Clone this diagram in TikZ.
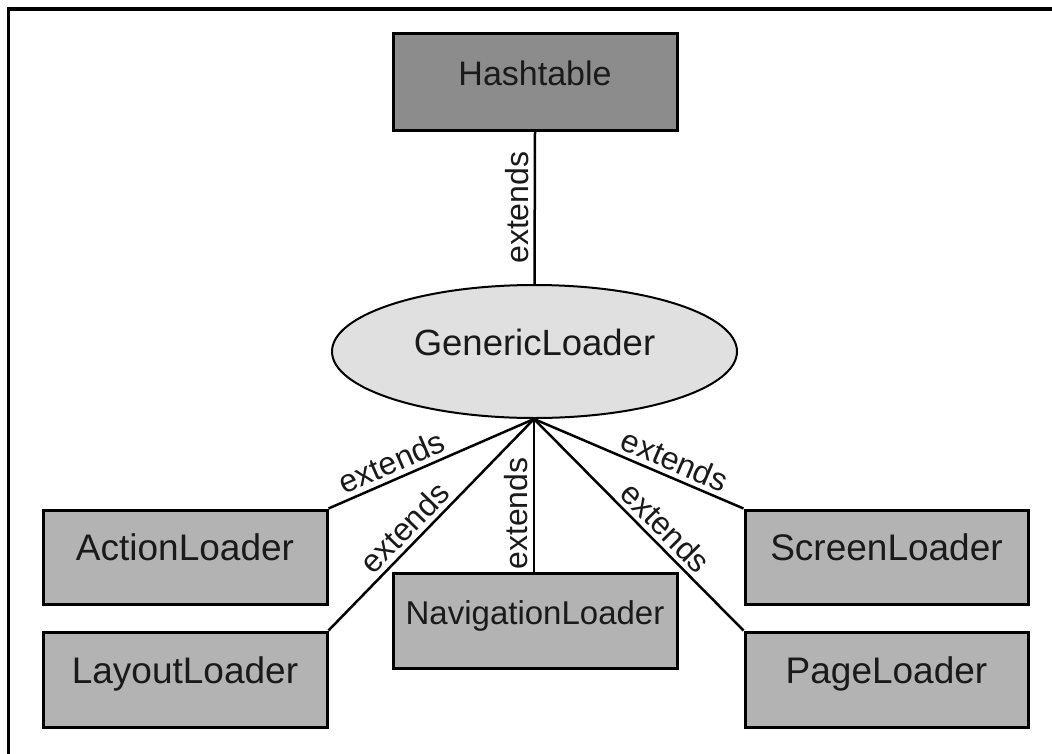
\documentclass[tikz,border=0pt]{standalone}
\usepackage{fontspec}
\setmainfont{Liberation Sans}
\usetikzlibrary{shapes.geometric}

\definecolor{basefill}{HTML}{8C8C8C}
\definecolor{classfill}{HTML}{B3B3B3}
\definecolor{genfill}{HTML}{E0E0E0}
\definecolor{inkgray}{HTML}{1A1A1A}

\tikzset{
  classbox/.style={draw, line width=3pt, fill=classfill, inner sep=0pt,
    minimum width=284pt, minimum height=94pt,
    text height=0.72em, text depth=0pt, text=inkgray,
    font=\fontsize{37}{40}\selectfont},
  basebox/.style={classbox, fill=basefill, minimum height=97pt,
    font=\fontsize{34}{38}\selectfont},
  genellipse/.style={ellipse, draw, line width=2pt, fill=genfill, inner sep=0pt,
    minimum width=405pt, minimum height=133pt,
    text height=0.72em, text depth=0pt, text=inkgray,
    font=\fontsize{36.5}{40}\selectfont},
  link/.style={line width=2.5pt},
  rel/.style={sloped, above, inner sep=4.5pt, text=inkgray,
    font=\fontsize{32}{34}\selectfont},
  frameline/.style={line width=3.2pt}
}

\begin{document}
\begin{tikzpicture}[x=1pt, y=-1pt]
  \useasboundingbox (0,0) rectangle (1052,753);
  \clip (0,0) rectangle (1052,753);

  % outer frame
  \draw[frameline] (8.3,800) -- (8.3,9) -- (1100,9);

  % classes
  \node[basebox] (hash) at (535,81.5) {Hashtable};
  \node[genellipse] (gen) at (534.5,351.5) {GenericLoader};
  \coordinate (fan) at (534,419);

  \node[classbox] (action) at (185,557) {ActionLoader};
  \node[classbox, minimum height=95pt] (layout) at (185,679.5) {LayoutLoader};
  \node[classbox, minimum height=95pt, font=\fontsize{33}{36}\selectfont] (nav) at (535,620.5) {NavigationLoader};
  \node[classbox, minimum width=283pt] (screen) at (886.5,557) {ScreenLoader};
  \node[classbox, minimum width=283pt, minimum height=95pt] (page) at (886.5,679.5) {PageLoader};

  % inheritance links
  \draw[link] (gen.north) -- (hash.south) node[rel, pos=0.5] {extends};
  \draw[link] (action.north east) -- (fan) node[rel, pos=0.34] {extends};
  \draw[link] (layout.north east) -- (fan) node[rel, pos=0.43] {extends};
  \draw[link] (fan |- nav.north) -- (fan) node[rel, pos=0.38] {extends};
  \draw[link] (fan) -- (screen.north west) node[rel, pos=0.64] {extends};
  \draw[link] (fan) -- (page.north west) node[rel, pos=0.57] {extends};
\end{tikzpicture}
\end{document}
